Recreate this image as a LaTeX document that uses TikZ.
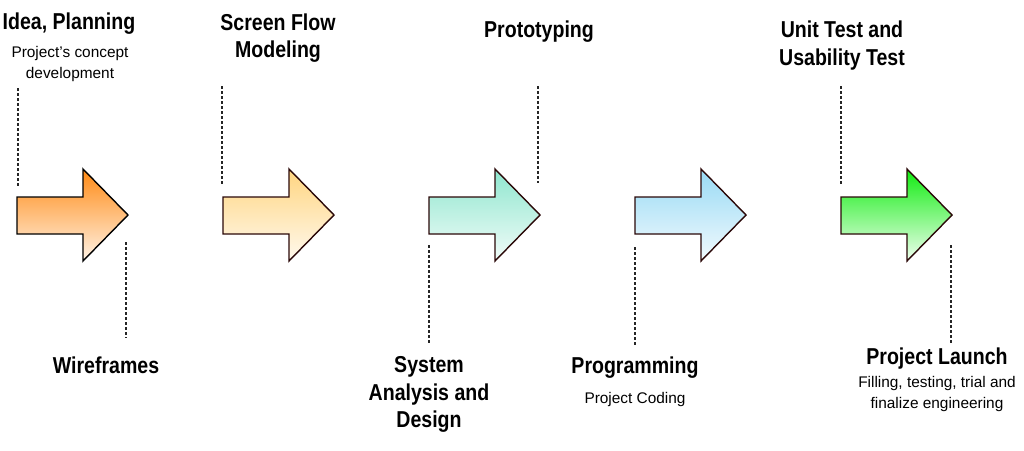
\documentclass[tikz,border=0pt]{standalone}
\usepackage{fontspec}
\setmainfont{Liberation Sans}
\newfontfamily\titlefont[FakeStretch=0.85]{Liberation Sans}
\begin{document}
\begin{tikzpicture}[x=1pt,y=-1pt,
  ttl/.style={anchor=base,inner sep=0pt,font=\titlefont\bfseries\fontsize{23}{27}\selectfont},
  sub/.style={anchor=base,inner sep=0pt,font=\fontsize{15.4}{19}\selectfont},
  guide/.style={draw=black!85,line width=1.5pt,dash pattern=on 3pt off 2pt},
  arr/.style={draw=#1,line width=1.4pt,line join=miter}]
\useasboundingbox (0,0) rectangle (1024,450);
\definecolor{o1}{HTML}{FF8A14}\definecolor{o2}{HTML}{FFF3E6}
\definecolor{y1}{HTML}{FFD580}\definecolor{y2}{HTML}{FFF9EE}
\definecolor{c1}{HTML}{8EE6CE}\definecolor{c2}{HTML}{F2FCF9}
\definecolor{b1}{HTML}{98DAF4}\definecolor{b2}{HTML}{F2FAFE}
\definecolor{g1}{HTML}{10EC10}\definecolor{g2}{HTML}{F0FFF0}
\definecolor{rim}{HTML}{2A0808}
% arrows
\foreach \x/\ca/\cb/\rc in {17/o1/o2/black,223/y1/y2/rim,429/c1/c2/rim,635/b1/b2/rim,841/g1/g2/rim}{
  \path[arr=\rc,top color=\ca,bottom color=\cb]
    (\x,197) -- ++(66,0) -- ++(0,-28) -- ++(45,46) -- ++(-45,46) -- ++(0,-27) -- ++(-66,0) -- cycle;
}
% guide coordinates
\coordinate (g1t) at (18,88);   \coordinate (g1u) at (18,187);
\coordinate (g1d) at (126,242); \coordinate (g1e) at (126,338);
\coordinate (g2t) at (222,86);  \coordinate (g2u) at (222,184);
\coordinate (g3t) at (538,86);  \coordinate (g3u) at (538,183);
\coordinate (g3d) at (429,245); \coordinate (g3e) at (429,343);
\coordinate (g4d) at (635,247); \coordinate (g4e) at (635,346);
\coordinate (g5t) at (841,86);  \coordinate (g5u) at (841,185);
\coordinate (g5d) at (951,245); \coordinate (g5e) at (951,343);
\draw[guide] (g1t) -- (g1u);
\draw[guide] (g1d) -- (g1e);
\draw[guide] (g2t) -- (g2u);
\draw[guide] (g3t) -- (g3u);
\draw[guide] (g3d) -- (g3e);
\draw[guide] (g4d) -- (g4e);
\draw[guide] (g5t) -- (g5u);
\draw[guide] (g5d) -- (g5e);
% top labels
\node[ttl] (t1a) at (69,29) {Idea, Planning};
\node[sub] (s1a) at (70,57) {Project\symbol{"27}s concept};
\node[sub] (s1b) at (70,78) {development};
\node[ttl] (t2a) at (278,30) {Screen Flow};
\node[ttl] (t2b) at (278,57) {Modeling};
\node[ttl] (t3a) at (539,37) {Prototyping};
\node[ttl] (t4a) at (842,37) {Unit Test and};
\node[ttl] (t4b) at (842,65) {Usability Test};
% bottom labels
\node[ttl] (b1a) at (106,373) {Wireframes};
\node[ttl] (b2a) at (429,372) {System};
\node[ttl] (b2b) at (429,400) {Analysis and};
\node[ttl] (b2c) at (429,427) {Design};
\node[ttl] (b3a) at (635,373) {Programming};
\node[sub] (s3a) at (635,403) {Project Coding};
\node[ttl] (b4a) at (937,364) {Project Launch};
\node[sub] (s4a) at (937,387) {Filling, testing, trial and};
\node[sub] (s4b) at (937,408) {finalize engineering};
\end{tikzpicture}
\end{document}
